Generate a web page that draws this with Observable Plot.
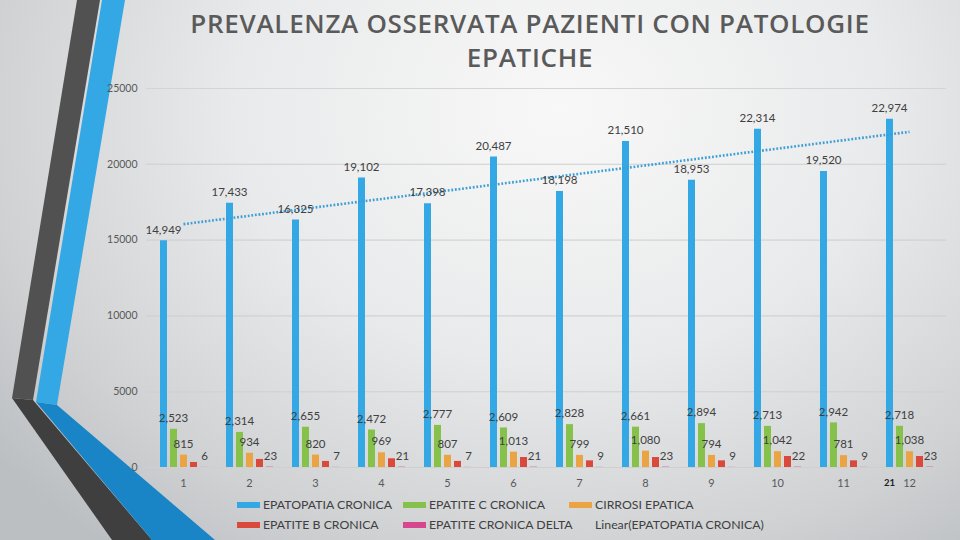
<!DOCTYPE html>
<html>
<head>
<meta charset="utf-8">
<script src="https://cdn.jsdelivr.net/npm/d3@7"></script>
<script src="https://cdn.jsdelivr.net/npm/@observablehq/plot@0.6"></script>
<style>
  body { margin: 0; }
  #wrap { position: relative; width: 960px; height: 540px; overflow: hidden;
    background: radial-gradient(ellipse 720px 560px at 560px 110px, #f8f8f8 0%, #e9eaeb 45%, #cfd1d3 80%, #bcbfc2 100%);
    font-family: Lato, "Open Sans", sans-serif; }
  #deco { position: absolute; left: 0; top: 0; }
  #chart { position: absolute; left: 0; top: 0; }
  #title { position: absolute; left: 100px; width: 860px; top: 6px; text-align: center;
    font-family: "Open Sans", sans-serif; font-weight: 600; font-size: 26px; line-height: 34px; color: #5a5a5a; letter-spacing: 0.7px; }
  .leg { position: absolute; font-size: 12.3px; color: #404040; display: flex; align-items: center; white-space: nowrap; }
  .sw { width: 23px; height: 6px; margin-right: 3px; display: inline-block; }
</style>
</head>
<body>
<div id="wrap">
  <svg id="deco" width="960" height="540">
    <polygon points="77,0 100,0 33,400 12,398" fill="#515151"/>
    <polygon points="12,398 33,400 152,540 112,540" fill="#3f3f3f"/>
    <polygon points="102,0 125,0 57,405 36,402" fill="#33a8e5"/>
    <polygon points="36,402 57,405 215,540 152,540" fill="#1a85c6"/>
  </svg>
  <div id="chart"></div>
  <div id="title">PREVALENZA OSSERVATA PAZIENTI CON PATOLOGIE<br>EPATICHE</div>
  <div id="legend"></div>
</div>
<script>
const groups = ["1","2","3","4","5","6","7","8","9","10","11","12"];
const seriesNames = ["EPATOPATIA CRONICA","EPATITE C CRONICA","CIRROSI EPATICA","EPATITE B CRONICA","EPATITE CRONICA DELTA"];
const seriesColors = ["#33a8e5","#86c24b","#eba443","#d94a3c","#d6478f"];
const epatopatiaCronica = [14949,17433,16325,19102,17398,20487,18198,21510,18953,22314,19520,22974];
const epatiteCCronica = [2523,2314,2655,2472,2777,2609,2828,2661,2894,2713,2942,2718];
const cirrosiEpatica = [815,934,820,969,807,1013,799,1080,794,1042,781,1038];
const epatiteBCronica = [330,530,400,575,400,660,440,660,440,725,440,725];
const epatiteCronicaDelta = [6,23,7,21,7,21,9,23,9,22,9,23];
const labelledSeries = [true, true, true, false, true];
const yTicks = [0,5000,10000,15000,20000,25000];
const strayLabel = {group: "12", value: 0, text: "21"};

const seriesValues = [epatopatiaCronica, epatiteCCronica, cirrosiEpatica, epatiteBCronica, epatiteCronicaDelta];
const offsets = [-20,-10,0,10,20];

// linear trend of EPATOPATIA CRONICA
const xs = groups.map((g,i)=>i+1);
const mx = d3.mean(xs), my = d3.mean(epatopatiaCronica);
const slope = d3.sum(xs.map((x,i)=>(x-mx)*(epatopatiaCronica[i]-my))) / d3.sum(xs.map(x=>(x-mx)**2));
const trend = [0, groups.length-1].map(i => ({group: groups[i], value: my + slope*(xs[i]-mx)}));

const fmt = d3.format(",");
const marks = [
  Plot.ruleY([0], {stroke: "#cfcfcf", strokeWidth: 1})
];
seriesValues.forEach((vals, si) => {
  const data = groups.map((g,i)=>({group: g, value: vals[i]}));
  marks.push(Plot.ruleX(data, {x: "group", y1: 0, y2: "value", stroke: seriesColors[si], strokeWidth: 7, dx: offsets[si]}));
});
marks.push(Plot.line(trend, {x: "group", y: "value", stroke: "#3d9fd6", strokeWidth: 2.6, strokeDasharray: "1.8 1.8", strokeLinecap: "butt"}));
seriesValues.forEach((vals, si) => {
  if (!labelledSeries[si]) return;
  const data = groups.map((g,i)=>({group: g, value: vals[i]}));
  marks.push(Plot.text(data, {x: "group", y: "value", text: d => fmt(d.value), dx: offsets[si] + (si===4 ? 1 : 0), dy: -11, fill: "#404040", fontSize: 11.5}));
});
marks.push(Plot.text([strayLabel], {x: "group", y: "value", text: "text", dx: -20, dy: 15, fill: "#222", fontSize: 9.5, fontWeight: "bold"}));

const plot = Plot.plot({
  width: 960,
  height: 540,
  marginTop: 88,
  marginBottom: 73,
  marginLeft: 146,
  marginRight: 14,
  style: {background: "transparent", fontFamily: "Lato, 'Open Sans', sans-serif", color: "#595959"},
  x: {type: "band", domain: groups, padding: 0, label: null, tickSize: 0, tickPadding: 12},
  y: {domain: [0,25000], ticks: yTicks, tickFormat: d => String(d), label: null, tickSize: 0, tickPadding: 10, grid: true},
  marks: [
    Plot.gridY(yTicks.slice(1), {stroke: "#d4d4d4", strokeOpacity: 1}),
    Plot.axisY(yTicks, {tickSize: 0, tickPadding: 9, tickFormat: d => String(d), fontSize: 10.5, fill: "#595959", label: null}),
    Plot.axisX(groups, {tickSize: 0, tickPadding: 12, fontSize: 11, fill: "#595959", label: null}),
    ...marks
  ]
});
document.getElementById("chart").appendChild(plot);

// legend
const legendRows = [
  [{name: seriesNames[0], color: seriesColors[0], x: 237, y: 505}, {name: seriesNames[1], color: seriesColors[1], x: 403, y: 505}, {name: seriesNames[2], color: seriesColors[2], x: 569, y: 505}],
  [{name: seriesNames[3], color: seriesColors[3], x: 237, y: 525}, {name: seriesNames[4], color: seriesColors[4], x: 403, y: 525}, {name: "Linear(EPATOPATIA CRONICA)", color: null, x: 569, y: 525}]
];
const leg = document.getElementById("legend");
legendRows.flat().forEach(it => {
  const d = document.createElement("div");
  d.className = "leg";
  d.style.left = it.x + "px";
  d.style.top = (it.y - 8) + "px";
  const sw = document.createElement("span");
  sw.className = "sw";
  sw.style.background = it.color || "transparent";
  d.appendChild(sw);
  const t = document.createElement("span");
  t.textContent = it.name;
  d.appendChild(t);
  leg.appendChild(d);
});
</script>
</body>
</html>
